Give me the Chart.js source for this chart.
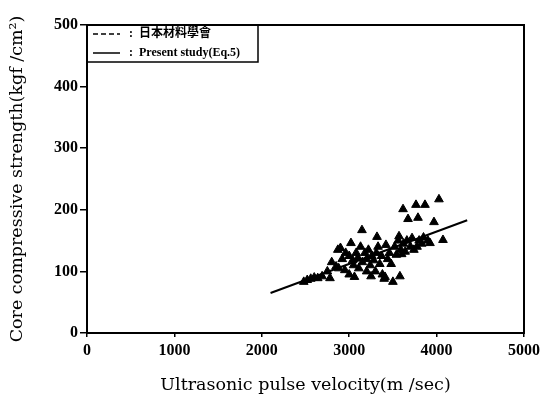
<!DOCTYPE html>
<html>
<head>
<meta charset="utf-8">
<script src="https://cdn.jsdelivr.net/npm/chart.js"></script>
<style>
  html, body { margin: 0; padding: 0; background: #fff; }
  #wrap { width: 545px; height: 403px; }
</style>
</head>
<body>
<div id="wrap"><canvas id="chart" width="545" height="403"></canvas></div>
<script>
// measured points: velocity (m/sec) and core strength (kgf/cm2)
const velocity = [2480, 2520, 2560, 2600, 2640, 2690, 2750, 2780, 2800, 2850, 2870, 2880, 2900, 2920, 2950, 2960, 3000, 3000, 3020, 3040,
  3050, 3060, 3080, 3100, 3110, 3130, 3146, 3150, 3180, 3200, 3200, 3220, 3240, 3250, 3260, 3280, 3300, 3310, 3318, 3330,
  3350, 3370, 3380, 3400, 3410, 3420, 3440, 3460, 3480, 3500, 3520, 3540, 3560, 3570, 3580, 3590, 3600, 3616, 3620, 3640,
  3660, 3673, 3700, 3719, 3740, 3764, 3776, 3787, 3800, 3830, 3850, 3867, 3900, 3924, 3970, 4027, 4073];
const strength = [83, 86, 88, 90, 89, 92, 100, 89, 115, 108, 135, 105, 138, 120, 102, 130, 95, 125, 146, 118,
  110, 91, 130, 122, 105, 140, 167, 115, 130, 100, 120, 135, 110, 92, 125, 118, 100, 130, 156, 140,
  112, 125, 95, 88, 91, 143, 120, 130, 112, 83, 140, 127, 150, 157, 92, 135, 128, 201, 145, 132,
  150, 185, 140, 154, 135, 208, 140, 187, 150, 145, 155, 208, 150, 146, 180, 217, 151];

// regression line (Eq.5) end points
const fitX = [2100, 4350];
const fitY = [65, 183];

const labels = ['日本材料學會', 'Present study(Eq.5)'];
const xTicks = [0, 1000, 2000, 3000, 4000, 5000];
const yTicks = [0, 100, 200, 300, 400, 500];

const points = velocity.map((v, i) => ({ x: v, y: strength[i] }));
const fitLine = fitX.map((v, i) => ({ x: v, y: fitY[i] }));

// frame around plot area
const framePlugin = {
  id: 'frame',
  afterDraw(chart) {
    const { ctx, chartArea: a } = chart;
    ctx.save();
    ctx.strokeStyle = '#000';
    ctx.lineWidth = 2;
    ctx.strokeRect(a.left, a.top, a.right - a.left, a.bottom - a.top);
    ctx.restore();
  }
};

// legend box drawn inside top-left of the plot
const boxLegend = {
  id: 'boxLegend',
  afterDraw(chart) {
    const { ctx, chartArea: a } = chart;
    const x0 = a.left, y0 = a.top;
    const w = 171, h = 37;
    ctx.save();
    ctx.strokeStyle = '#000';
    ctx.lineWidth = 1.5;
    ctx.strokeRect(x0, y0, w, h);
    ctx.font = 'bold 12px "Liberation Serif", "Noto Sans CJK JP", serif';
    ctx.fillStyle = '#000';
    ctx.textBaseline = 'middle';
    const ds = chart.data.datasets;
    [0, 1].forEach(i => {
      const y = y0 + 9 + i * 19;
      ctx.beginPath();
      ctx.lineWidth = 1.5;
      ctx.setLineDash(i === 0 ? [5, 3] : []);
      ctx.moveTo(x0 + 6, y);
      ctx.lineTo(x0 + 33, y);
      ctx.stroke();
      ctx.setLineDash([]);
      ctx.fillText(':', x0 + 42, y);
      ctx.fillText(ds[i].label, x0 + 52, y);
    });
    ctx.restore();
  }
};

const tickFont = { family: '"Liberation Serif", serif', size: 16, weight: 'bold' };
const titleFont = { family: '"DejaVu Serif", serif', size: 17.5 };

new Chart(document.getElementById('chart'), {
  type: 'scatter',
  data: {
    datasets: [
      {
        label: labels[0],
        data: [],
        type: 'line',
        borderColor: '#000',
        borderDash: [5, 3],
        borderWidth: 1.5,
        pointRadius: 0
      },
      {
        label: labels[1],
        data: fitLine,
        type: 'line',
        borderColor: '#000',
        borderWidth: 2,
        pointRadius: 0,
        fill: false
      },
      {
        label: 'data',
        data: points,
        pointStyle: 'triangle',
        pointRadius: 5,
        backgroundColor: '#000',
        borderColor: '#000'
      }
    ]
  },
  options: {
    responsive: false,
    animation: false,
    layout: { padding: { top: 25, right: 21, left: 0, bottom: 0 } },
    plugins: {
      legend: { display: false },
      tooltip: { enabled: false }
    },
    scales: {
      x: {
        type: 'linear',
        min: 0,
        max: 5000,
        afterBuildTicks: s => { s.ticks = xTicks.map(v => ({ value: v })); },
        afterFit: s => { s.height = 70; },
        border: { color: '#000', width: 2 },
        grid: { drawOnChartArea: false, color: '#000', tickLength: 4, lineWidth: 1.5 },
        ticks: { color: '#000', font: tickFont, padding: 4, maxRotation: 0, callback: v => String(v) },
        title: {
          display: true,
          text: 'Ultrasonic pulse velocity(m /sec)',
          color: '#000',
          font: titleFont,
          padding: { top: 10, bottom: 7 }
        }
      },
      y: {
        type: 'linear',
        min: 0,
        max: 500,
        afterBuildTicks: s => { s.ticks = yTicks.map(v => ({ value: v })); },
        afterFit: s => { s.width = 87; },
        border: { color: '#000', width: 2 },
        grid: { drawOnChartArea: false, color: '#000', tickLength: 7, lineWidth: 1.5 },
        ticks: { color: '#000', font: tickFont, padding: 2, callback: v => String(v) },
        title: {
          display: true,
          text: 'Core compressive strength(kgf /cm²)',
          color: '#000',
          font: titleFont,
          padding: { top: 7, bottom: 4 }
        }
      }
    }
  },
  plugins: [framePlugin, boxLegend]
});
</script>
</body>
</html>
